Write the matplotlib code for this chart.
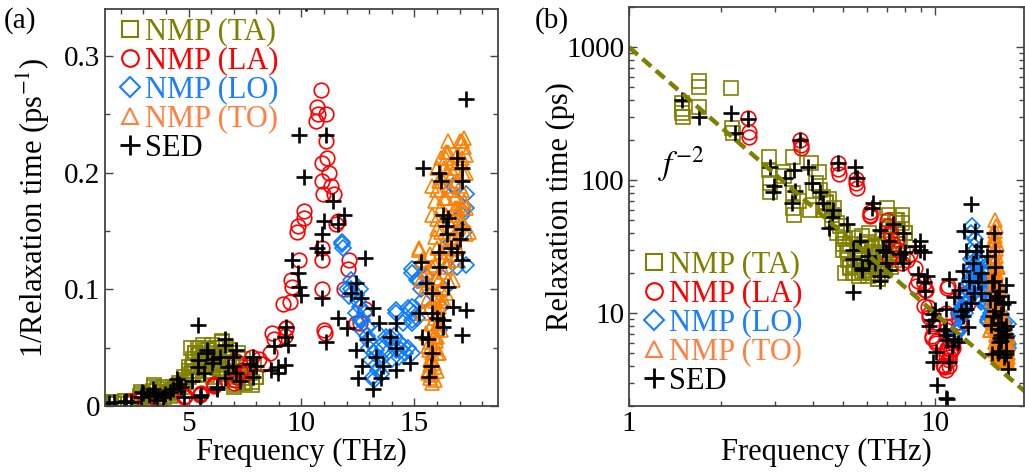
import numpy as np
import matplotlib
matplotlib.use("Agg")
import matplotlib.pyplot as plt
from matplotlib.lines import Line2D
from matplotlib.ticker import MultipleLocator, FixedLocator, FixedFormatter

plt.rcParams['font.family'] = 'serif'
plt.rcParams['font.serif'] = ['Liberation Serif', 'STIXGeneral', 'DejaVu Serif']
plt.rcParams['mathtext.fontset'] = 'stix'

# frequency (THz) and relaxation time (ps) per branch; panel (a) shows 1/tau
ta_f = [1.49, 1.49, 1.49, 1.50, 1.69, 1.69, 1.70, 2.15, 2.17, 2.19, 2.87, 2.87, 2.89, 2.90,
        3.19, 3.21, 3.43, 3.43, 3.45, 3.46, 3.93, 4.17, 4.1, 4.2, 4.3, 4.4, 4.3, 4.5, 4.6,
        4.7, 4.8, 4.9, 5.0, 5.0, 5.1, 5.1, 5.2, 5.3, 5.3, 5.4, 5.5, 5.6, 5.7, 5.8, 5.9, 6.0,
        6.1, 6.2, 6.3, 6.4, 6.5, 6.6, 6.7, 6.8, 7.0, 7.1, 7.1, 7.2, 7.3, 7.4, 7.5, 7.6, 7.7,
        7.8, 7.9, 8.0, 3.6, 3.9,
        4.6, 4.8, 5.0, 5.2, 5.3, 5.5, 5.6, 5.8, 5.9, 6.0, 6.2, 6.3, 6.5, 6.6, 6.8, 6.9,
        7.0, 7.2, 7.4, 7.6, 7.8, 8.0, 5.4, 6.1, 4.4, 4.0,
        5.15, 5.45, 5.75, 6.05, 6.35, 6.65, 6.95, 7.25, 7.55, 5.65, 6.25, 6.85]
ta_tau = [380, 345, 320, 300, 560, 500, 355, 490, 245, 228, 150, 120, 95, 82,
          115, 108, 150, 80, 62, 55, 134, 115, 95, 85, 75, 68, 60, 72, 55,
          62, 48, 45, 40, 30, 36, 20, 25, 33, 22, 20, 26, 30, 24, 38, 21, 34,
          28, 20, 26, 32, 18, 24, 36, 28, 62, 55, 45, 38, 30, 25, 50, 42, 35,
          48, 28, 40, 70, 60,
          50, 40, 33, 28.6, 22.2, 20, 25, 20.8, 33, 22.2, 20, 28.6, 18.2, 22.2, 25, 33,
          40, 22.2, 50, 33, 55, 40, 37, 40, 67, 83,
          30, 23, 27, 19, 23, 20, 27, 35, 28, 19, 31, 21]

la_f = [2.45, 2.47, 2.47, 3.62, 3.64, 3.64, 4.82, 4.84, 4.86, 5.52, 5.52, 5.55, 6.13, 6.15,
        6.15, 7.0, 7.05, 7.13, 7.1, 7.3, 7.5, 7.6, 7.8, 8.1, 8.3, 8.6, 8.7, 8.8, 9.2, 9.25,
        9.3, 9.33, 9.5, 9.55, 9.6, 9.8, 9.83, 9.9, 10.1, 10.13, 10.66, 10.7, 10.75, 10.87,
        10.9, 10.9, 10.95, 10.9, 10.9, 10.9, 11.0, 11.05, 11.1, 11.1, 11.15, 11.2, 11.3,
        11.46, 11.55, 11.6, 11.9, 12.05, 12.1, 12.4, 12.6, 12.8]
la_tau = [293, 230, 212, 200, 185, 175, 135, 122, 112, 102, 95, 88, 58, 54,
          55, 50, 45, 40, 26, 33, 36, 30, 24, 25, 28, 22, 16, 17.5, 11.4, 16.7,
          14.9, 15, 11.2, 9.3, 9.8, 6.7, 6.5, 8.0, 6.0, 6.2, 4.1, 3.9, 4.0, 3.7,
          4.8, 5.2, 5.5, 7.4, 8.0, 10.0, 15.4, 16, 4.0, 4.4, 4.7, 5.0, 5.3,
          5.5, 6.4, 6.3, 10, 8.5, 8.0, 14, 14, 12]

lo_f = [11.8, 11.85, 11.8, 12.0, 12.1, 12.2, 12.3, 12.6, 12.4, 12.6, 12.6, 12.7, 12.7, 12.9,
        13.0, 13.1, 13.15, 13.2, 13.3, 13.4, 13.4, 13.5, 13.75, 13.9, 14.0, 14.2, 14.2, 14.2,
        14.3, 14.4, 14.5, 14.5, 14.7, 14.8, 14.9, 14.9, 14.9, 14.9, 14.9, 15.1, 15.1, 15.2,
        15.4, 15.5, 16.1, 16.2, 16.5, 16.9, 16.8, 16.7, 17.1, 17.1, 17.3, 17.3, 17.3,
        12.5, 12.8, 12.9, 13.0, 13.2, 13.3, 13.5, 13.6, 13.8, 14.0, 14.1, 14.3, 14.6, 14.7,
        14.9, 15.0, 15.3, 15.4, 16.3, 16.6, 16.9, 17.2, 12.2, 12.4]
lo_tau = [7.1, 7.4, 7.2, 10, 10.6, 9.3, 9.5, 10, 12.5, 13.5, 11.8, 13.5, 15.4, 14.7,
          17.9, 25.6, 40, 45, 20.8, 32, 16.1, 36, 17, 17, 18.5, 20.8, 12.5, 12.2,
          23.8, 20.8, 19.6, 14.1, 11.9, 12.2, 11.8, 14.1, 13.5, 8.8, 8.5, 13.2, 9.3, 9.3,
          11, 9.0, 15.4, 11.8, 8.4, 8.4, 5.3, 5.3, 6.1, 6.0, 5.9, 5.5, 8.3,
          11.1, 12.5, 16.7, 20, 22.2, 28.6, 25, 20, 22.2, 25, 16.7, 18.2, 22.2, 20,
          22.2, 12.5, 10, 8.3, 10, 7.1, 6.25, 6.7, 10, 10.5]

to_f = [15.2, 15.2, 15.35, 15.3, 15.5, 15.6, 15.4, 15.5, 15.6, 15.7, 15.6, 15.7, 15.8, 15.8,
        16.0, 16.0, 15.8, 16.1, 16.0, 15.8, 15.8, 16.0, 16.1, 16.0, 16.2, 16.4, 16.5, 16.4,
        16.7, 16.4, 16.2, 16.8, 16.7, 16.4, 16.2, 16.5, 16.7, 16.4, 16.1, 16.1, 16.0, 15.9,
        15.9, 17.0, 17.1, 17.2, 17.1, 16.9, 17.1, 16.9, 17.1, 17.3, 16.8, 16.9, 16.8, 16.5,
        16.3, 16.2, 16.0, 15.9,
        15.6, 15.7, 15.8, 15.9, 15.7, 15.9, 16.0, 15.8, 15.9, 16.1, 15.7, 15.9, 16.0, 16.2,
        15.6, 16.0, 16.3, 15.5, 15.9, 16.3, 16.6, 15.7, 16.0, 16.4, 16.8, 15.9, 16.2, 16.6,
        17.0, 16.0, 16.4, 16.8, 17.2, 15.9, 16.3, 16.6, 17.0, 16.2, 16.5, 17.3, 16.8, 17.1,
        16.3, 16.6, 16.9, 17.3, 16.5, 17.2, 17.3, 17.4, 16.1, 15.8,
        15.75, 15.85, 15.95, 16.05, 15.65, 16.15, 16.45, 16.75, 17.05, 16.55, 16.85, 17.15]
to_tau = [7.5, 7.4, 8.0, 9.3, 9.8, 10.8, 12.5, 15.9, 19.6, 25.6, 35.7, 41.7, 35.7, 22.2,
          17, 12.5, 8.4, 9.3, 6.6, 6.1, 5.3, 5.4, 5.2, 4.9, 4.7, 4.6, 4.6, 4.7,
          5.0, 5.6, 5.9, 5.6, 6.3, 7.0, 7.6, 8.0, 9.3, 10.3, 11.8, 13.5, 22.2, 30.3,
          45, 4.4, 4.4, 4.5, 4.7, 5.2, 5.4, 5.9, 6.3, 6.8, 6.8, 7.4, 8.0, 9.3,
          11.1, 15.4, 33, 20,
          33, 28.6, 25, 20, 18.2, 16.7, 15.4, 14.3, 13.3, 12.5, 11.8, 11.1, 10.5, 10,
          9.5, 9.1, 8.7, 8.7, 8.3, 8.0, 7.7, 7.7, 7.4, 7.4, 7.1, 6.9, 6.7, 6.5,
          6.25, 6.25, 6.1, 5.9, 5.7, 5.7, 5.6, 5.4, 5.3, 5.1, 5.0, 5.0, 4.9, 4.8,
          4.9, 4.8, 4.65, 4.65, 4.4, 4.35, 5.9, 6.7, 22.2, 50,
          38, 27, 18, 14, 21, 10.8, 8.4, 6.9, 5.8, 5.3, 6.1, 5.0]

sed_f = [1.49, 1.69, 2.15, 2.22, 2.45, 2.89, 2.95, 3.23, 3.46, 3.41, 3.62, 3.97, 4.2, 4.65,
         4.5, 4.82, 5.15, 5.56, 5.7, 5.4, 6.1, 5.8, 6.6, 6.75, 6.27, 7.3, 7.1, 7.85, 7.7,
         8.95, 8.95, 9.4, 6.6, 6.95, 5.4, 2.97, 3.5, 3.85, 4.3, 4.6, 5.5, 5.8, 6.06, 6.6,
         6.4, 7.1, 6.95, 6.24, 7.85, 8.0, 8.65, 9.25, 8.8, 9.25, 9.3, 9.6, 9.83, 9.9, 10.0,
         9.87, 10.13, 11.1, 10.7, 10.9, 10.9, 11.0, 10.9, 11.1, 11.4, 11.6, 11.9, 11.6, 12.2,
         12.4, 12.0, 12.4, 12.5, 12.8, 12.65, 13.15, 12.9, 12.7, 13.15, 13.3, 13.6, 13.5,
         13.45, 13.9, 14.2, 14.2, 14.2, 14.8, 15.2, 15.4, 15.3, 15.35, 15.6, 15.5, 15.8,
         15.8, 15.8, 15.75, 15.65, 16.1, 16.2, 16.25, 16.1, 16.1, 16.4, 16.5, 16.45, 16.6,
         16.25, 16.25, 16.0, 16.5, 16.7, 16.9, 17.0, 17.1, 16.9, 17.1, 17.1, 17.3, 17.1,
         17.3, 17.1, 10.2, 10.9, 10.95, 5.4]
sed_tau = [400, 296, 320, 225, 287, 125, 81, 104, 119, 67, 200, 95, 81, 60,
           44, 134, 47, 104, 35, 30, 25, 21, 19, 30, 67, 47, 35, 40, 28,
           35, 30, 19, 42, 24, 14.4, 91, 83, 125, 67, 53, 125, 22, 27, 17.5,
           24, 21, 29, 62, 24, 29, 32, 28.6, 19.6, 17, 14.7, 8.0, 8.8, 9.8, 10.5,
           4.3, 5.1, 4.3, 7.4, 7.6, 6.8, 6.3, 10.8, 18.2, 5.7, 6.4, 6.1, 13.3, 10.3,
           9.5, 14.9, 20.8, 41.7, 7.9, 10.8, 11.9, 17.5, 29.4, 66.7, 23.8, 29.4, 41.7,
           14.1, 17, 14.1, 20, 32, 27, 12.5, 4.9, 8.1, 17, 17.5, 9.5, 10.3,
           12.5, 22.2, 29.4, 40, 5.0, 5.2, 6.1, 7.6, 8.4, 6.5, 6.2, 6.8, 7.4,
           13.5, 14.7, 13.2, 9.8, 11.8, 7.6, 7.0, 8.0, 4.7, 5.2, 4.9, 3.8, 6.6,
           12.2, 16.4, 2.9, 2.3, 2.25, 25.6]

# f^-2 guide line
fit_f = np.array([1.0, 20.0])
fit_tau = 1000.0 / fit_f ** 2

labels = ['NMP (TA)', 'NMP (LA)', 'NMP (LO)', 'NMP (TO)', 'SED']
text_colors = ['#808000', '#ff0000', '#1a80ff', '#ff8040', '#000000']

series = [
    (ta_f, ta_tau, 's', '#7f7f00', 10),
    (la_f, la_tau, 'o', '#ff0000', 10.5),
    (lo_f, lo_tau, 'D', '#0a7cff', 8),
    (to_f, to_tau, '^', '#ff8000', 10),
]

fig = plt.figure(figsize=(10.25, 4.72), dpi=100)
ax1 = fig.add_axes([0.1024, 0.1398, 0.3834, 0.841])
ax2 = fig.add_axes([0.6137, 0.1398, 0.3854, 0.845])


def draw(ax, invert):
    for f, tau, m, c, ms in series:
        y = 1.0 / np.array(tau) if invert else np.array(tau)
        ax.plot(f, y, ls='none', marker=m, ms=ms, mfc='none', mec=c, mew=1.2)
    y = 1.0 / np.array(sed_tau) if invert else np.array(sed_tau)
    ax.plot(sed_f, y, ls='none', marker='+', ms=12, mec='black', mew=1.9)


draw(ax1, True)
draw(ax2, False)
ax2.plot(fit_f, fit_tau, color='#808000', lw=3.2, ls=(0, (2.6, 1.4)))
ax2.text(1.24, 110, r'$f^{-2}$', fontsize=24)

handles = [
    Line2D([], [], ls='none', marker='s', ms=11, mfc='none', mec='#7f7f00', mew=1.5),
    Line2D([], [], ls='none', marker='o', ms=12, mfc='none', mec='#ff0000', mew=1.5),
    Line2D([], [], ls='none', marker='D', ms=10, mfc='none', mec='#1a80ff', mew=1.5),
    Line2D([], [], ls='none', marker='^', ms=12, mfc='none', mec='#ff8040', mew=1.5),
    Line2D([], [], ls='none', marker='+', ms=15, mec='black', mew=2),
]

for ax, loc, anchor in [(ax1, 'upper left', (-0.03, 1.04)), (ax2, 'lower left', (-0.03, -0.035))]:
    ax.legend(handles, labels, loc=loc, bbox_to_anchor=anchor, frameon=False,
              fontsize=22, labelcolor=text_colors, handlelength=0.8,
              handletextpad=0.1, labelspacing=0.0, borderpad=0.3)

for ax in (ax1, ax2):
    ax.tick_params(which='both', direction='in', top=True, right=True,
                   labelsize=21, width=1.0, color='#444444')
    ax.tick_params(which='major', length=6)
    ax.tick_params(which='minor', length=3.5)
    for s in ax.spines.values():
        s.set_linewidth(1.3)
        s.set_color('#444444')
    ax.set_xlabel('Frequency (THz)', fontsize=22, labelpad=1)

# panel (a)
ax1.set_xlim(1.3, 18.7)
ax1.set_ylim(0, 0.34)
ax1.xaxis.set_major_locator(FixedLocator([5, 10, 15]))
ax1.xaxis.set_minor_locator(MultipleLocator(1))
ax1.yaxis.set_major_locator(FixedLocator([0, 0.1, 0.2, 0.3]))
ax1.yaxis.set_major_formatter(FixedFormatter(['0', '0.1', '0.2', '0.3']))
ax1.yaxis.set_minor_locator(MultipleLocator(0.05))
ax1.set_ylabel(r'1/Relaxation time (ps$^{-1}$)', fontsize=22)
ax1.yaxis.set_label_coords(-0.135, 0.5)

# panel (b)
ax2.set_xscale('log')
ax2.set_yscale('log')
ax2.set_xlim(1, 19.6)
ax2.set_ylim(2, 2000)
ax2.xaxis.set_major_locator(FixedLocator([1, 10]))
ax2.xaxis.set_major_formatter(FixedFormatter(['1', '10']))
ax2.yaxis.set_major_locator(FixedLocator([10, 100, 1000]))
ax2.yaxis.set_major_formatter(FixedFormatter(['10', '100', '1000']))
ax2.set_ylabel('Relaxation time (ps)', fontsize=22)
ax2.yaxis.set_label_coords(-0.137, 0.5)

fig.text(0.004, 0.985, '(a)', fontsize=21, va='top')
fig.text(0.522, 0.985, '(b)', fontsize=21, va='top')

fig.savefig('out.png', dpi=100)
